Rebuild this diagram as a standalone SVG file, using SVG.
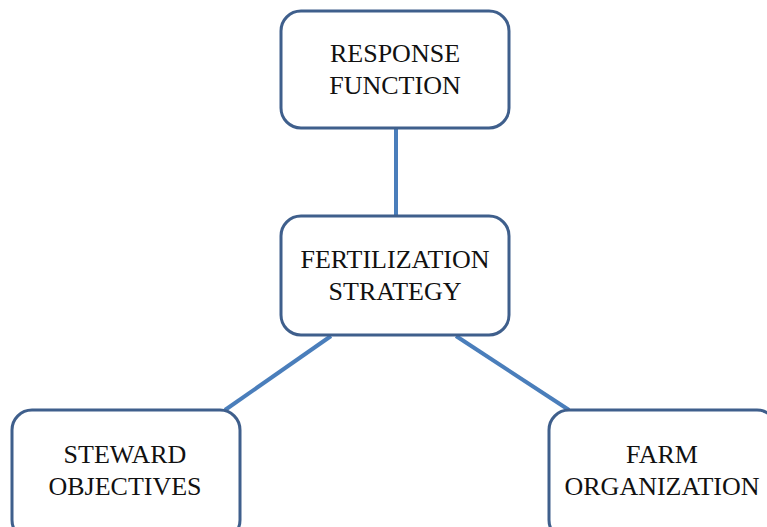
<svg xmlns="http://www.w3.org/2000/svg" width="767" height="527" viewBox="0 0 767 527">
<style>
.box{fill:#ffffff;stroke:#3f5f8c;stroke-width:3}
.lbl{font-family:"Liberation Serif","Times New Roman",Tinos,serif;font-size:26px;fill:#111111;text-anchor:middle}
.conn{stroke:#4a7ebb;stroke-width:4;fill:none}
</style>
<rect width="767" height="527" fill="#ffffff"/>
<g id="connectors">
<line class="conn" x1="396" y1="128" x2="396" y2="216"/>
<line class="conn" x1="331" y1="336" x2="225" y2="410"/>
<line class="conn" x1="456" y1="336" x2="569" y2="410"/>
</g>
<g id="response">
<rect class="box" x="281" y="11" width="228" height="117" rx="20"/>
<text class="lbl" x="395" y="62">RESPONSE</text>
<text class="lbl" x="395" y="94">FUNCTION</text>
</g>
<g id="fertilization">
<rect class="box" x="281" y="216" width="228" height="119" rx="20"/>
<text class="lbl" x="395" y="268">FERTILIZATION</text>
<text class="lbl" x="395" y="300">STRATEGY</text>
</g>
<g id="steward">
<rect class="box" x="12" y="410" width="228" height="130" rx="20"/>
<text class="lbl" x="125" y="463">STEWARD</text>
<text class="lbl" x="125" y="495">OBJECTIVES</text>
</g>
<g id="farm">
<rect class="box" x="549" y="410" width="228" height="130" rx="20"/>
<text class="lbl" x="662" y="463">FARM</text>
<text class="lbl" x="662" y="495">ORGANIZATION</text>
</g>
</svg>
